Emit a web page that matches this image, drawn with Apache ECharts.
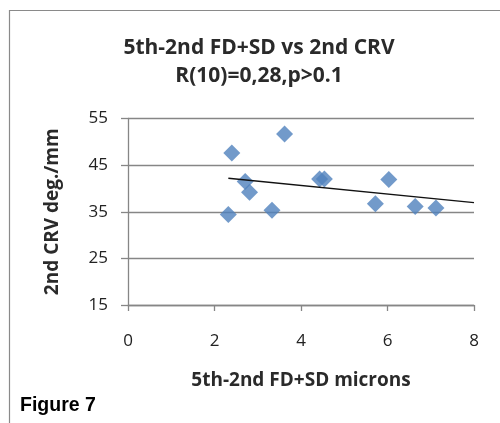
<!DOCTYPE html>
<html><head><meta charset="utf-8">
<script src="https://cdn.jsdelivr.net/npm/echarts@6/dist/echarts.min.js"></script>
<style>html,body{margin:0;padding:0;background:#fff}#c{width:500px;height:423px}</style>
</head><body><div id="c"></div>
<script>
const xValues = [2.40, 3.62, 2.32, 2.71, 2.81, 3.33, 4.43, 4.54, 5.72, 6.03, 6.64, 7.12];
const yValues = [47.6, 51.7, 34.4, 41.5, 39.2, 35.3, 42.0, 42.0, 36.7, 41.9, 36.1, 35.8];
const xTicks = [0, 2, 4, 6, 8];
const yTicks = [15, 25, 35, 45, 55];
const titleLines = ['5th-2nd FD+SD vs 2nd CRV', 'R(10)=0,28,p>0.1'];
const xName = '5th-2nd FD+SD microns';
const yName = '2nd CRV deg./mm';
const figLabel = 'Figure 7';

// linear trend line (least squares), from min x to axis max
const n = xValues.length;
const mx = xValues.reduce((a,b)=>a+b,0)/n;
const my = yValues.reduce((a,b)=>a+b,0)/n;
let sxy=0,sxx=0;
for(let i=0;i<n;i++){sxy+=(xValues[i]-mx)*(yValues[i]-my);sxx+=(xValues[i]-mx)**2;}
const slope=sxy/sxx, icpt=my-slope*mx;
const trendX=[Math.min(...xValues), xTicks[xTicks.length-1]];
const trend=trendX.map(x=>[x, icpt+slope*x]);

const font='"Open Sans", "Liberation Sans", sans-serif';
const axisGrey='#868686';
const chart=echarts.init(document.getElementById('c'),null,{renderer:'canvas'});
chart.setOption({
  animation:false,
  backgroundColor:'#fff',
  title:{text:titleLines.join('\n'),left:254,top:29,textAlign:'center',
    textStyle:{fontFamily:font,fontSize:21,fontWeight:'bold',color:'#2a2a2a',lineHeight:28}},
  grid:{left:128,right:26,top:118.5,bottom:118},
  xAxis:{type:'value',min:xTicks[0],max:xTicks[xTicks.length-1],interval:2,
    name:xName,nameLocation:'middle',nameGap:66,
    nameTextStyle:{fontFamily:font,fontSize:19,fontWeight:'bold',color:'#2a2a2a'},
    axisLine:{lineStyle:{color:axisGrey,width:1.3}},
    axisTick:{show:true,length:6,lineStyle:{color:axisGrey,width:1.3}},
    axisLabel:{fontFamily:font,fontSize:17,color:'#222',margin:28},
    splitLine:{show:false}},
  yAxis:{type:'value',min:yTicks[0],max:yTicks[yTicks.length-1],interval:10,
    name:yName,nameLocation:'middle',nameGap:66,nameRotate:90,
    nameTextStyle:{fontFamily:font,fontSize:19,fontWeight:'bold',color:'#2a2a2a'},
    axisLine:{show:true,lineStyle:{color:axisGrey,width:1.3}},
    axisTick:{show:true,length:7,lineStyle:{color:axisGrey,width:1.3}},
    axisLabel:{fontFamily:font,fontSize:17,color:'#222',margin:20},
    splitLine:{show:true,lineStyle:{color:axisGrey,width:1.3}}},
  series:[
    {type:'scatter',symbol:'diamond',symbolSize:17,
      itemStyle:{color:'#4F81BD'},
      data:xValues.map((x,i)=>[x,yValues[i]]),z:3},
    {type:'line',data:trend,symbol:'none',
      lineStyle:{color:'#111',width:1.4},z:4}
  ],
  graphic:[
    {type:'rect',shape:{x:9.5,y:10.5,width:520,height:430},
      style:{fill:'none',stroke:'#8a8a8a',lineWidth:1.2},silent:true},
    {type:'text',left:20,top:396,style:{text:figLabel,
      font:'bold 19.5px "Liberation Sans", Arial, sans-serif',fill:'#000'}}
  ]
});
</script></body></html>
